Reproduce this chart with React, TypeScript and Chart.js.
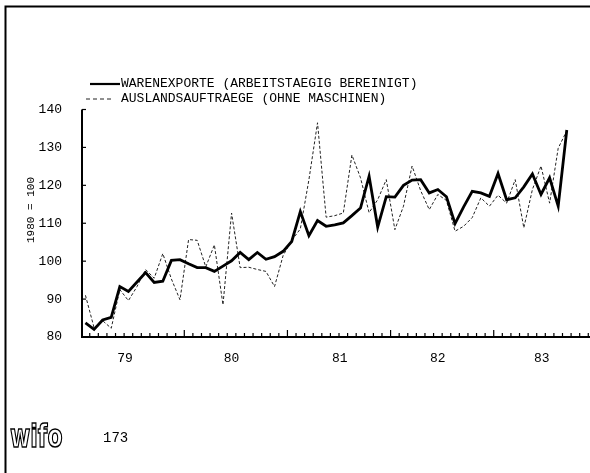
import React, { useEffect, useRef } from "react";
import { Chart, registerables } from "chart.js";

Chart.register(...registerables);

// Monthly values, Jan 1979 .. Sep 1983 (index 0 = Jan 1979)
const warenexporte = [
  83.7, 82.0, 84.5, 85.2, 93.3, 92.0, 94.5, 97.0, 94.4, 94.7, 100.2, 100.4,
  99.3, 98.3, 98.3, 97.3, 98.7, 100.1, 102.3, 100.4, 102.3, 100.5, 101.2, 102.6,
  105.2, 113.1, 106.7, 110.7, 109.2, 109.6, 110.1, 112.0, 114.0, 122.4, 109.0, 117.0,
  116.9, 120.0, 121.4, 121.5, 118.0, 118.9, 117.0, 109.9, 114.3, 118.4, 118.0, 117.1,
  123.1, 116.2, 116.7, 119.6, 123.0, 117.6, 122.0, 114.5, 134.6,
];
const auslandsauftraege = [
  91.0, 82.5, 84.3, 82.3, 92.5, 89.6, 93.3, 97.8, 95.5, 102.0, 95.3, 89.8,
  105.7, 105.5, 98.5, 104.3, 88.5, 112.7, 98.3, 98.4, 97.8, 97.3, 93.3, 101.5,
  105.5, 108.5, 121.5, 136.5, 111.6, 112.0, 112.7, 128.0, 122.0, 112.8, 116.2, 121.5,
  108.3, 114.5, 125.1, 118.6, 113.6, 117.6, 116.0, 107.9, 109.2, 111.5, 116.7, 114.5,
  117.4, 115.3, 121.5, 108.8, 118.9, 125.1, 115.3, 129.8, 134.4,
];
const seriesLabels = [
  "WARENEXPORTE (ARBEITSTAEGIG BEREINIGT)",
  "AUSLANDSAUFTRAEGE (OHNE MASCHINEN)",
];
const yTickValues = [80, 90, 100, 110, 120, 130, 140];
const yearLabels = ["79", "80", "81", "82", "83"];
const yearLabelPos = [4.6, 17.0, 29.6, 41.0, 53.1];
const yTitle = "1980 = 100";
const logoText = "wifo";
const pageNumber = "173";

const MONO = "'Liberation Mono', 'DejaVu Sans Mono', monospace";

const decorPlugin = {
  id: "decor",
  afterDraw(chart: any) {
    const ctx = chart.ctx as CanvasRenderingContext2D;
    const { left, right, top, bottom } = chart.chartArea;
    const xs = chart.scales.x;
    const ys = chart.scales.y;
    ctx.save();
    ctx.strokeStyle = "#000";
    ctx.fillStyle = "#000";
    ctx.lineCap = "butt";

    // page frame
    ctx.lineWidth = 2;
    ctx.beginPath();
    ctx.moveTo(5.5, 473);
    ctx.lineTo(5.5, 6.5);
    ctx.lineTo(590, 6.5);
    ctx.stroke();

    // axes
    ctx.lineWidth = 2;
    ctx.beginPath();
    ctx.moveTo(left, top);
    ctx.lineTo(left, bottom);
    ctx.lineTo(right, bottom);
    ctx.stroke();

    // y ticks (inward)
    ctx.lineWidth = 1.2;
    for (const v of yTickValues) {
      const y = ys.getPixelForValue(v);
      ctx.beginPath();
      ctx.moveTo(left, y);
      ctx.lineTo(left + 4, y);
      ctx.stroke();
    }
    // x ticks (month boundaries, taller at year boundaries)
    for (let k = 0; k < 80; k++) {
      const v = -0.5 + k;
      if (v < xs.min || v > xs.max) continue;
      const x = xs.getPixelForValue(v);
      const len = k % 12 === 0 ? 7 : 4;
      ctx.beginPath();
      ctx.moveTo(x, bottom);
      ctx.lineTo(x, bottom - len);
      ctx.stroke();
    }

    // legend
    const ds = chart.data.datasets;
    const legendY = [84, 99];
    ctx.font = `13px ${MONO}`;
    ctx.textBaseline = "middle";
    ctx.textAlign = "left";
    ds.forEach((d: any, i: number) => {
      ctx.save();
      ctx.lineWidth = i === 0 ? 2.2 : 1;
      ctx.strokeStyle = d.borderColor;
      ctx.setLineDash(i === 0 ? [] : [4, 3]);
      ctx.beginPath();
      ctx.moveTo(i === 0 ? 90 : 86, legendY[i]);
      ctx.lineTo(i === 0 ? 120 : 114, legendY[i]);
      ctx.stroke();
      ctx.restore();
      ctx.fillText(d.label, 121, legendY[i]);
    });

    // y title
    ctx.save();
    ctx.translate(31, 210);
    ctx.rotate(-Math.PI / 2);
    ctx.font = `11px ${MONO}`;
    ctx.textAlign = "center";
    ctx.textBaseline = "middle";
    ctx.fillText(yTitle, 0, 0);
    ctx.restore();

    // logo
    ctx.save();
    ctx.translate(10, 447);
    ctx.scale(1, 1.45);
    ctx.font = "bold 22px 'DejaVu Sans', sans-serif";
    ctx.textAlign = "left";
    ctx.textBaseline = "alphabetic";
    ctx.fillStyle = "#fff";
    ctx.fillText(logoText, 0, 0);
    ctx.lineWidth = 1.1;
    ctx.strokeStyle = "#000";
    ctx.strokeText(logoText, 0, 0);
    ctx.restore();

    ctx.font = `14px ${MONO}`;
    ctx.textBaseline = "middle";
    ctx.fillStyle = "#000";
    ctx.fillText(pageNumber, 103, 438);

    ctx.restore();
  },
};

export default function App() {
  const ref = useRef<HTMLCanvasElement | null>(null);

  useEffect(() => {
    if (!ref.current) return;
    const chart = new Chart(ref.current, {
      type: "line",
      data: {
        datasets: [
          {
            label: seriesLabels[0],
            data: warenexporte.map((v, i) => ({ x: i, y: v })),
            borderColor: "#000",
            borderWidth: 2.8,
            pointRadius: 0,
            tension: 0,
            fill: false,
          },
          {
            label: seriesLabels[1],
            data: auslandsauftraege.map((v, i) => ({ x: i, y: v })),
            borderColor: "#222",
            borderWidth: 1,
            borderDash: [3, 2],
            pointRadius: 0,
            tension: 0,
            fill: false,
          },
        ],
      },
      options: {
        animation: false,
        responsive: false,
        devicePixelRatio: 1,
        layout: { padding: { left: 25, top: 109.5, right: 0, bottom: 106 } },
        plugins: {
          legend: { display: false },
          tooltip: { enabled: false },
          title: { display: false },
        },
        scales: {
          x: {
            type: "linear",
            min: -0.4,
            max: 58.7,
            grid: { display: false },
            border: { display: false },
            afterBuildTicks: (scale: any) => {
              scale.ticks = yearLabelPos.map((v) => ({ value: v }));
            },
            afterFit: (scale: any) => {
              scale.height = 30;
            },
            ticks: {
              autoSkip: false,
              maxRotation: 0,
              padding: 7,
              color: "#000",
              font: { family: MONO, size: 13, lineHeight: 1 },
              callback: (_v: any, i: number) => yearLabels[i],
            },
          },
          y: {
            min: 80,
            max: 140,
            grid: { display: false },
            border: { display: false },
            afterBuildTicks: (scale: any) => {
              scale.ticks = yTickValues.map((v) => ({ value: v }));
            },
            afterFit: (scale: any) => {
              scale.width = 57;
            },
            ticks: {
              padding: 12,
              color: "#000",
              font: { family: MONO, size: 13, lineHeight: 1 },
              callback: (v: any) => String(v),
            },
          },
        },
      },
      plugins: [decorPlugin],
    });
    return () => chart.destroy();
  }, []);

  return (
    <div style={{ position: "absolute", left: 0, top: 0, width: 590, height: 473, background: "#fff" }}>
      <canvas ref={ref} width={590} height={473} style={{ display: "block", width: 590, height: 473 }} />
    </div>
  );
}
